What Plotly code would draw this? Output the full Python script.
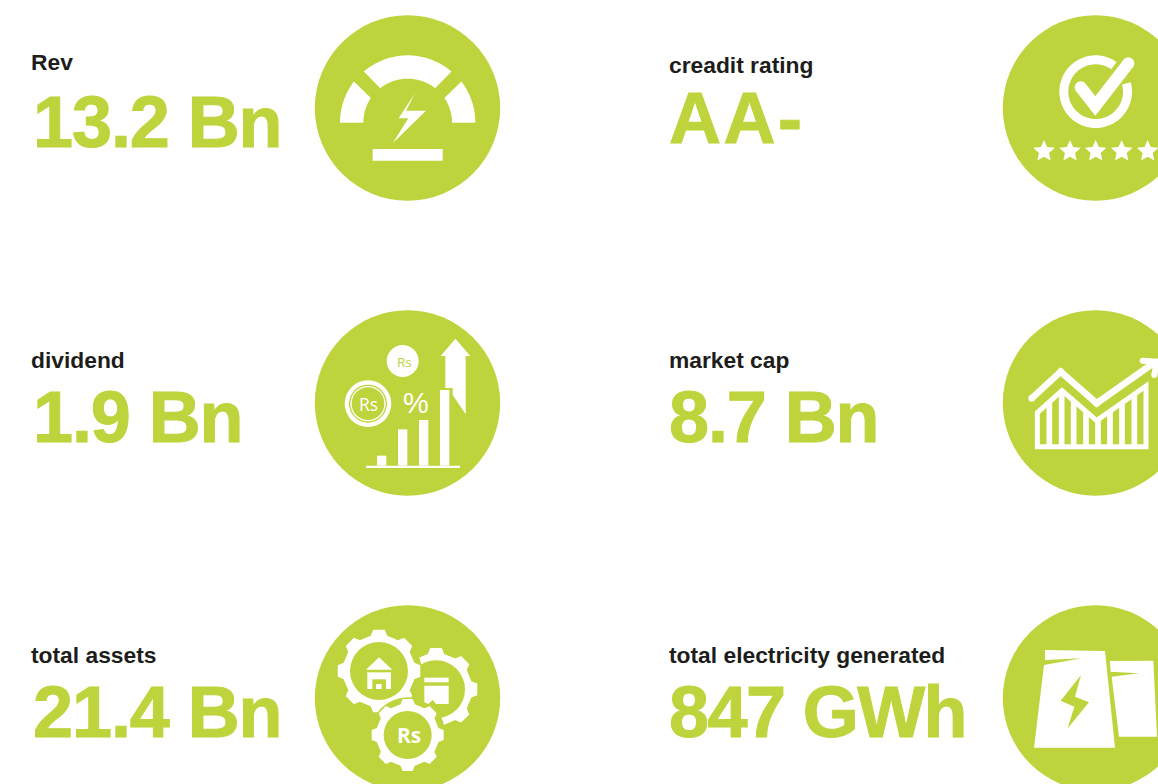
import math
import numpy as np
import plotly.graph_objects as go

# ---- content ----
labels_left = ["Rev", "dividend", "total assets"]
values_left = ["13.2 Bn", "1.9 Bn", "21.4 Bn"]
labels_right = ["creadit rating", "market cap", "total electricity generated"]
values_right = ["AA-", "8.7 Bn", "847 GWh"]

GREEN = "#bfd33c"
DARK = "#1d1d1b"
WHITE = "#ffffff"
W, H = 1158, 784
FONT = "Liberation Sans"

shapes = []
annots = []


def poly(ox, oy, pts, fill=WHITE):
    p = [(ox + x / 3, oy + y / 3) for x, y in pts]
    d = "M" + "L".join(f"{x:.2f},{y:.2f}" for x, y in p) + "Z"
    shapes.append(dict(type="path", path=d, fillcolor=fill, line=dict(width=0), layer="above"))


def circ(ox, oy, cx, cy, r, fill=WHITE):
    x, y, r = ox + cx / 3, oy + cy / 3, r / 3
    shapes.append(dict(type="circle", x0=x - r, x1=x + r, y0=y - r, y1=y + r,
                       fillcolor=fill, line=dict(width=0), layer="above"))


def rect(ox, oy, x0, y0, x1, y1, fill=WHITE):
    poly(ox, oy, [(x0, y0), (x1, y0), (x1, y1), (x0, y1)], fill)


def stroke(ox, oy, pts, w, fill=WHITE, closed=False, round_=True):
    p = [(ox + x / 3, oy + y / 3) for x, y in pts]
    d = "M" + "L".join(f"{x:.2f},{y:.2f}" for x, y in p) + ("Z" if closed else "")
    shapes.append(dict(type="path", path=d, line=dict(width=w / 3, color=fill), layer="above"))
    if round_:
        for x, y in pts:
            circ(ox, oy, x, y, w / 2, fill)


def arc_pts(cx, cy, r, a0, a1, n=40):
    return [(cx + r * math.cos(math.radians(a)), cy - r * math.sin(math.radians(a)))
            for a in np.linspace(a0, a1, n)]


def band(ox, oy, cx, cy, ro, ao0, ao1, ri, ai0, ai1, fill=WHITE):
    poly(ox, oy, arc_pts(cx, cy, ro, ao0, ao1) + arc_pts(cx, cy, ri, ai1, ai0), fill)


def gear(ox, oy, cx, cy, ro, fill=WHITE, rr=0.87, n=8):
    pts = []
    for k in range(n):
        a = k * 360 / n
        for da, r in [(-13, ro * rr), (-8, ro), (8, ro), (13, ro * rr)]:
            aa = math.radians(a + da)
            pts.append((cx + r * math.cos(aa), cy - r * math.sin(aa)))
    poly(ox, oy, pts, fill)


def star(ox, oy, cx, cy, R, fill=WHITE):
    pts = []
    for k in range(10):
        r = R if k % 2 == 0 else R * 0.47
        a = math.radians(90 + k * 36)
        pts.append((cx + r * math.cos(a), cy - r * math.sin(a)))
    poly(ox, oy, pts, fill)


def text(x, y, s, size, color, bold=True, family=FONT, anchor="left"):
    annots.append(dict(x=x, y=y, text=f"<b>{s}</b>" if bold else s, showarrow=False,
                       xanchor=anchor, yanchor="middle", xref="x", yref="y",
                       font=dict(family=family, size=size, color=color)))


# ---- background discs ----
for cx in (407.5, 1095.5):
    for cy in (108, 403, 698):
        shapes.append(dict(type="circle", x0=cx - 92.7, x1=cx + 92.7, y0=cy - 92.7, y1=cy + 92.7,
                           fillcolor=GREEN, line=dict(width=0), layer="below"))

# ---- gauge icon ----
ox, oy = 300, 0
band(ox, oy, 323, 368, 203, 180, 142.5, 133, 180, 146)
band(ox, oy, 323, 368, 202, 130.6, 49.4, 132, 128.6, 51.4)
band(ox, oy, 323, 368, 203, 37.5, 0, 133, 34, 0)
poly(ox, oy, [(345, 280), (318, 332), (378, 332), (278, 430), (325, 355), (296, 355)])
rect(ox, oy, 218, 447, 428, 482)

# ---- rating icon ----
ox, oy = 990, 0
ring = arc_pts(317, 275, 109, 55, 375, 80) + arc_pts(317, 275, 82, 375, 55, 80)
poly(ox, oy, ring)
stroke(ox, oy, [(272, 262), (316, 318), (415, 190)], 36)
for sx in (162, 240, 317, 395, 473):
    star(ox, oy, sx, 454, 34)

# ---- dividend icon ----
ox, oy = 300, 300
circ(ox, oy, 308, 183, 48)
circ(ox, oy, 204, 311, 70)
circ(ox, oy, 204, 311, 57, GREEN)
circ(ox, oy, 204, 311, 53)
circ(ox, oy, 204, 311, 49, GREEN)
text(ox + 104, oy + 61.5, "Rs", 13.5, GREEN, bold=False, family="Open Sans", anchor="center")
text(ox + 68, oy + 104, "Rs", 17.5, WHITE, bold=False, family="Open Sans", anchor="center")
text(ox + 115.5, oy + 102.5, "%", 29, WHITE, bold=False, anchor="center")
for x0, y0 in ((231, 467), (294, 388), (357, 360), (420, 270)):
    rect(ox, oy, x0, y0, x0 + 28, 497)
rect(ox, oy, 198, 497, 480, 504)
poly(ox, oy, [(466, 116), (511, 168), (497, 168), (497, 343), (458, 285), (458, 264),
              (436, 264), (436, 168), (422, 168)])

# ---- market icon ----
ox, oy = 990, 300
stroke(ox, oy, [(125, 295), (212, 215), (320, 310), (490, 190)], 20)
stroke(ox, oy, [(458, 182), (500, 185), (493, 225)], 18)
outline_x = [142, 216, 320, 468]
outline_y = [338, 272, 362, 258]
stroke(ox, oy, list(zip(outline_x, outline_y)) + [(468, 440), (142, 440)], 15, closed=True, round_=False)
for sx in (178, 215, 251, 288, 324, 360, 396, 433):
    top = float(np.interp(sx, outline_x, outline_y))
    rect(ox, oy, sx - 8.5, top, sx + 8.5, 440)

# ---- assets icon ----
ox, oy = 300, 595
gear(ox, oy, 408, 283, 125)
circ(ox, oy, 408, 283, 87, GREEN)
circ(ox, oy, 237, 228, 128, GREEN)
circ(ox, oy, 323, 420, 113, GREEN)
gear(ox, oy, 237, 228, 125)
circ(ox, oy, 237, 228, 87, GREEN)
poly(ox, oy, [(262, 316), (300, 298), (330, 296), (300, 312), (284, 324)])
poly(ox, oy, [(205, 322), (246, 322), (220, 347)])
circ(ox, oy, 323, 420, 113, GREEN)
gear(ox, oy, 323, 420, 109)
circ(ox, oy, 323, 420, 72, GREEN)
poly(ox, oy, [(237, 187), (277, 224), (198, 224)])
rect(ox, oy, 202, 232, 273, 282)
rect(ox, oy, 217, 253, 258, 282, GREEN)
rect(ox, oy, 228, 267, 245, 282)
rect(ox, oy, 373, 248, 446, 262)
poly(ox, oy, [(373, 272), (446, 272), (446, 327), (408, 327), (398, 315), (385, 327), (373, 322)])
text(ox + 109, oy + 140, "Rs", 21, WHITE, family="Open Sans", anchor="center")

# ---- generation icon ----
ox, oy = 990, 595
poly(ox, oy, [(165, 165), (345, 168), (375, 458), (132, 458), (162, 210), (275, 190), (165, 195)])
poly(ox, oy, [(273, 240), (212, 317), (253, 335), (233, 400), (297, 322), (255, 305)], GREEN)
poly(ox, oy, [(360, 198), (490, 197), (501, 425), (387, 425), (365, 245), (447, 235), (362, 230)])

# ---- text blocks ----
rows = [(65, 122), (360, 417), (655, 712)]
for i, (lab, val) in enumerate(zip(labels_left, values_left)):
    ly, vy = rows[i]
    text(29, ly - 3 if i == 0 else ly, lab, 22.8, DARK)
    text(30.5, vy, val, 72, GREEN)
for i, (lab, val) in enumerate(zip(labels_right, values_right)):
    ly, vy = rows[i]
    text(667, ly, lab, 22.8, DARK)
    text(667, vy - 4 if i == 0 else vy, val, 72, GREEN)

fig = go.Figure()
fig.update_layout(
    width=W, height=H, margin=dict(l=0, r=0, t=0, b=0),
    paper_bgcolor="white", plot_bgcolor="white", showlegend=False,
    xaxis=dict(range=[0, W], visible=False, fixedrange=True),
    yaxis=dict(range=[H, 0], visible=False, fixedrange=True),
    shapes=shapes, annotations=annots,
)
post = """
document.body.style.margin='0';document.body.style.overflow='hidden';
document.querySelectorAll('.annotation-text').forEach(function(t){
  if(parseFloat(t.style.fontSize)>60){
    var x0=t.getBBox().x;
    var c=t.textContent;
    var ls=c==='AA-'?'2.5px':(c==='847 GWh'?'-1.6px':'-1.1px');
    t.style.letterSpacing=ls;t.style.stroke='#bfd33c';t.style.strokeWidth='1px';
    var dx=x0-t.getBBox().x;
    t.setAttribute('x',parseFloat(t.getAttribute('x'))+dx);
  }
});
"""
fig.write_html("out.html", post_script=post, config=dict(displayModeBar=False))
